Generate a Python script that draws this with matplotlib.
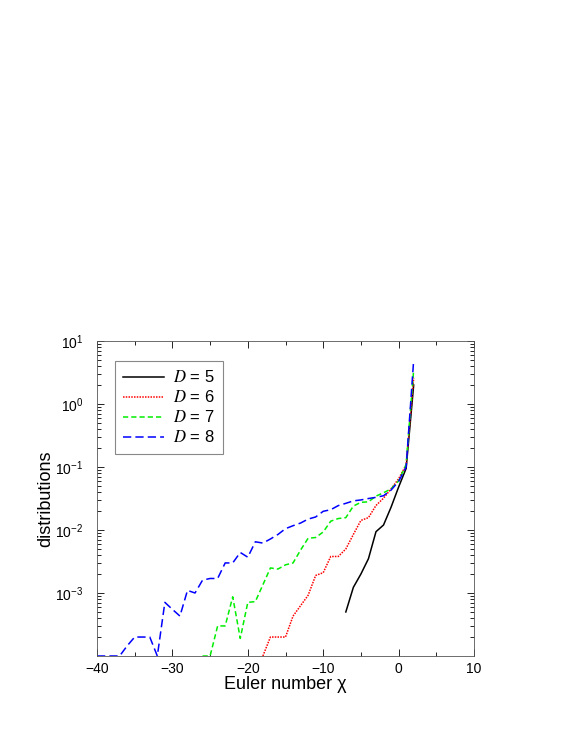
import math
import matplotlib
matplotlib.use("Agg")
import matplotlib.pyplot as plt
from matplotlib.ticker import FixedLocator, FuncFormatter, LogLocator, NullFormatter, MultipleLocator

plt.rcParams['font.family'] = ['Liberation Sans', 'DejaVu Sans']
plt.rcParams['mathtext.fontset'] = 'stix'

# ---- data ----
chi_d5 = [-7, -6, -5, -4, -3, -2, -1, 0, 1, 2]
dist_d5 = [5.0e-4, 1.23e-3, 2.0e-3, 3.5e-3, 9.4e-3, 0.012, 0.023, 0.048, 0.095, 2.0]

chi_d6 = list(range(-18, 3))
dist_d6 = [1e-4, 2.0e-4, 2.0e-4, 2.0e-4, 4.3e-4, 6.3e-4, 9.2e-4, 1.9e-3, 2.1e-3,
           3.8e-3, 3.8e-3, 5.0e-3, 8.5e-3, 0.0142, 0.0157, 0.0245, 0.032, 0.045,
           0.065, 0.108, 2.6]

chi_d7 = list(range(-26, 3))
dist_d7 = [1e-4, 1e-4, 3.0e-4, 3.0e-4, 8.7e-4, 1.9e-4, 7.1e-4, 7.3e-4, 1.35e-3,
           2.5e-3, 2.4e-3, 2.8e-3, 3.0e-3, 4.8e-3, 7.4e-3, 7.6e-3, 9.3e-3,
           0.0138, 0.0152, 0.0157, 0.024, 0.0275, 0.028, 0.0345, 0.039, 0.045,
           0.060, 0.11, 3.5]

chi_d8 = list(range(-40, 3))
dist_d8 = [1e-4, 1e-4, 1e-4, 1e-4, 1.45e-4, 2.0e-4, 2.0e-4, 2.0e-4, 1e-4, 7.1e-4,
           5.5e-4, 4.3e-4, 1.1e-3, 1.0e-3, 1.6e-3, 1.7e-3, 1.7e-3, 3.0e-3, 3.0e-3,
           4.4e-3, 3.7e-3, 6.5e-3, 6.2e-3, 7.2e-3, 8.5e-3, 0.0105, 0.0117, 0.0129,
           0.0149, 0.0161, 0.0198, 0.021, 0.0244, 0.0265, 0.029, 0.030, 0.0316,
           0.033, 0.035, 0.043, 0.059, 0.10, 5.0]

labels = [r'$D$ = 5', r'$D$ = 6', r'$D$ = 7', r'$D$ = 8']
x_ticks = [-40, -30, -20, -10, 0, 10]
y_ticks = [1e-3, 1e-2, 1e-1, 1e0, 1e1]

# ---- figure ----
fig = plt.figure(figsize=(5.72, 7.40), dpi=100)
ax = fig.add_axes([97/572, 1 - 656/740, (474 - 97)/572, (656 - 341)/740])

ax.plot(chi_d5, dist_d5, color='black', lw=1.1, ls='-', label=labels[0])
ax.plot(chi_d6, dist_d6, color='#ff0000', lw=1.1, ls=(0, (1.0, 0.8)), label=labels[1])
ax.plot(chi_d7, dist_d7, color='#00ee00', lw=1.1, ls=(0, (3.4, 2.0)), label=labels[2])
ax.plot(chi_d8, dist_d8, color='#0000ff', lw=1.1, ls=(0, (5.4, 2.7)), label=labels[3])

ax.set_yscale('log')
ax.set_xlim(-40, 10)
ax.set_ylim(1e-4, 10)

ax.xaxis.set_major_locator(FixedLocator(x_ticks))
ax.xaxis.set_minor_locator(MultipleLocator(5))
ax.yaxis.set_major_locator(FixedLocator(y_ticks))
ax.yaxis.set_minor_locator(LogLocator(base=10, subs=range(2, 10)))
ax.yaxis.set_minor_formatter(NullFormatter())
ax.yaxis.set_major_formatter(FuncFormatter(
    lambda v, p: r'$\mathregular{10^{%d}}$' % round(math.log10(v))))

ax.tick_params(which='both', direction='in', top=True, right=True,
               width=0.6, colors='black', labelsize=10)
ax.tick_params(which='major', length=5)
ax.tick_params(which='minor', length=3)
ax.tick_params(axis='x', which='major', pad=4.5)
ax.tick_params(axis='y', which='major', pad=10)
for s in ax.spines.values():
    s.set_linewidth(0.6)
    s.set_color('#555555')

ax.set_xlabel('Euler number χ', fontsize=13, labelpad=-0.5)
ax.set_ylabel('distributions', fontsize=13, labelpad=0.5)

leg = ax.legend(loc='upper left', bbox_to_anchor=((115 - 97)/377, (656 - 361)/315),
                borderaxespad=0, fontsize=12, handlelength=2.45, handletextpad=0.55,
                borderpad=0.5, labelspacing=0.24, fancybox=False, framealpha=1)
leg.get_frame().set_edgecolor('#888888')
leg.get_frame().set_linewidth(0.8)

fig.savefig('out.png', dpi=100)
